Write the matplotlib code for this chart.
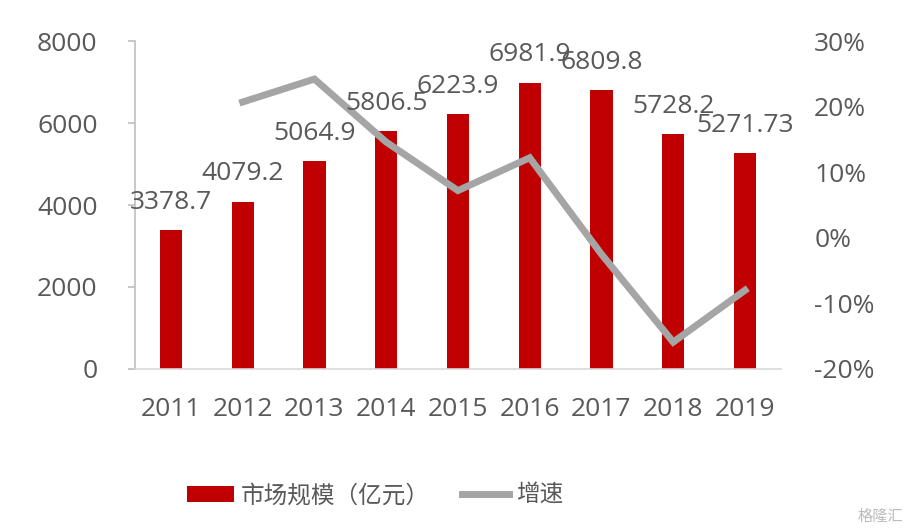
import numpy as np
import matplotlib.pyplot as plt
from matplotlib.patches import Patch
from matplotlib.lines import Line2D

plt.rcParams['font.family'] = ['Open Sans', 'Noto Sans CJK SC', 'DejaVu Sans']

# 数据
years = ['2011', '2012', '2013', '2014', '2015', '2016', '2017', '2018', '2019']
market = [3378.7, 4079.2, 5064.9, 5806.5, 6223.9, 6981.9, 6809.8, 5728.2, 5271.73]
market_labels = ['3378.7', '4079.2', '5064.9', '5806.5', '6223.9', '6981.9', '6809.8', '5728.2', '5271.73']
growth_years = years[1:]
growth = [20.7, 24.2, 14.6, 7.2, 12.2, -2.5, -15.9, -8.0]  # %

red = '#C00000'
grey_line = '#A5A5A5'
txt = '#595959'
fs = 19

fig = plt.figure(figsize=(9.08, 5.30), dpi=100)
ax = fig.add_axes([0.1487, 0.3038, 0.7113, 0.6188])
x = np.arange(len(years))
ax.bar(x, market, width=0.31, color=red, zorder=2)

ax.set_ylim(0, 8000)
ax.set_xlim(-0.5, len(years) - 0.5)
ax.set_yticks([0, 2000, 4000, 6000, 8000])
ax.set_xticks(x)
ax.set_xticklabels(years)
ax.tick_params(axis='y', colors='#BFBFBF', labelcolor=txt, labelsize=fs, length=5, width=1.2, pad=22)
ax.tick_params(axis='x', length=0, labelcolor=txt, labelsize=fs, pad=20)
for s in ['top', 'right']:
    ax.spines[s].set_visible(False)
ax.spines['left'].set_color('#BFBFBF')
ax.spines['left'].set_linewidth(1.2)
ax.spines['bottom'].set_color('#D9D9D9')
ax.spines['bottom'].set_linewidth(1.2)

ax2 = ax.twinx()
ax2.plot(x[1:], growth, color=grey_line, linewidth=5, solid_joinstyle='miter', zorder=3)
ax2.set_ylim(-20, 30)
ax2.set_yticks([-20, -10, 0, 10, 20, 30])
ax2.set_yticklabels([f'{t}%' for t in [-20, -10, 0, 10, 20, 30]])
ax2.tick_params(axis='y', length=0, labelcolor=txt, labelsize=fs, pad=24)
for s in ['top', 'right', 'left', 'bottom']:
    ax2.spines[s].set_visible(False)

# 数据标签画在最上层
for xi, v, s in zip(x, market, market_labels):
    ax2.annotate(s, (xi, v), xycoords=ax.transData, xytext=(0, 11), textcoords='offset points',
                 ha='center', va='bottom', fontsize=fs, color=txt, zorder=5)

handles = [Patch(facecolor=red, edgecolor='none'),
           Line2D([0], [0], color=grey_line, linewidth=5)]
fig.legend(handles, ['市场规模（亿元）', '增速'], loc='center', bbox_to_anchor=(0.413, 0.065),
           ncol=2, frameon=False, labelcolor=txt,
           handlelength=2.0, handleheight=0.7, columnspacing=1.35, handletextpad=0.3,
           prop={'family': ['Noto Sans CJK SC'], 'size': 17})

fig.text(0.995, 0.01, '格隆汇', ha='right', va='bottom', fontsize=11, color='#BBBBBB',
         family=['Noto Sans CJK SC'])

fig.savefig('out.png', dpi=100)
